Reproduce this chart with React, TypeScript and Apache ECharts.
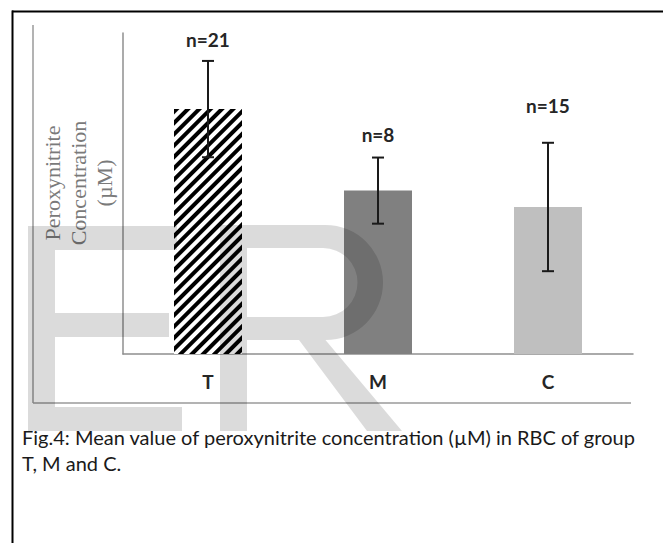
import React, { useEffect, useRef } from "react";
import * as echarts from "echarts";

const categories = ["T", "M", "C"];
const means = [76.3, 50.9, 45.8];
const errors = [15.0, 10.3, 20.0];
const sampleLabels = ["n=21", "n=8", "n=15"];
const sampleLabelLevels = [98.0, 68.5, 77.4];
const yAxisTitle = "Peroxynitrite\nConcentration\n(µM)";
const caption =
  "Fig.4: Mean value of peroxynitrite concentration (µM) in RBC of group\nT, M and C.";

const R_PATH =
  "M220,431 L220,225 L325.5,225 A57.5,57.5 0 0 1 325.5,340 L402,431 L367,431 L299,340 L247,340 L247,431 Z " +
  "M247,248 L247,317 L323,317 A34.5,34.5 0 0 0 323,248 Z";

let registered = false;
function ensureShapes() {
  if (registered) return;
  echarts.graphic.registerShape("watermarkR", echarts.graphic.extendPath(R_PATH, {}) as any);
  registered = true;
}

export default function App() {
  const ref = useRef<HTMLDivElement>(null);
  useEffect(() => {
    if (!ref.current) return;
    ensureShapes();
    const chart = echarts.init(ref.current, undefined, { renderer: "svg" });
    const wm = "rgba(0,0,0,0.14)";
    const barColors = ["#ffffff", "#808080", "#bfbfbf"];
    chart.setOption({
      animation: false,
      backgroundColor: "#ffffff",
      grid: { left: 123, top: 33, width: 510, height: 321, containLabel: false },
      xAxis: {
        type: "category",
        data: categories,
        axisLine: { show: true, lineStyle: { color: "#8f8f8f", width: 1.5 } },
        axisTick: { show: false },
        axisLabel: {
          margin: 18,
          fontFamily: "Lato",
          fontWeight: "bold",
          fontSize: 19,
          color: "#262626",
        },
        splitLine: { show: false },
      },
      yAxis: {
        type: "value",
        min: 0,
        max: 100,
        axisLine: { show: true, lineStyle: { color: "#8f8f8f", width: 1.5 } },
        axisTick: { show: false },
        axisLabel: { show: false },
        splitLine: { show: false },
      },
      series: [
        {
          type: "bar",
          barWidth: 68,
          z: 2,
          data: means.map((v, i) => ({
            value: v,
            itemStyle:
              i === 0
                ? {
                    color: "#ffffff",
                    decal: {
                      symbol: "rect",
                      dashArrayX: [1, 0],
                      dashArrayY: [3.5, 3.6],
                      rotation: -Math.PI / 4,
                      color: "#000000",
                    },
                  }
                : { color: barColors[i] },
          })),
        },
        {
          type: "custom",
          z: 3,
          encode: { x: 0, y: [1, 2] },
          data: means.map((m, i) => [i, m + errors[i], m - errors[i]]),
          renderItem: (params: any, api: any) => {
            const i = api.value(0);
            const hi = api.coord([i, api.value(1)]);
            const lo = api.coord([i, api.value(2)]);
            const w = 6;
            const st = { stroke: "#1a1a1a", lineWidth: 2 };
            return {
              type: "group",
              children: [
                { type: "line", shape: { x1: hi[0], y1: hi[1], x2: lo[0], y2: lo[1] }, style: st },
                { type: "line", shape: { x1: hi[0] - w, y1: hi[1], x2: hi[0] + w, y2: hi[1] }, style: st },
                { type: "line", shape: { x1: lo[0] - w, y1: lo[1], x2: lo[0] + w, y2: lo[1] }, style: st },
              ],
            };
          },
        },
        {
          type: "custom",
          z: 3,
          encode: { x: 0, y: 1 },
          data: sampleLabelLevels.map((v, i) => [i, v]),
          renderItem: (params: any, api: any) => {
            const i = api.value(0);
            const p = api.coord([i, api.value(1)]);
            return {
              type: "text",
              x: p[0],
              y: p[1],
              style: {
                text: sampleLabels[params.dataIndex],
                fontFamily: "Lato",
                fontWeight: "bold",
                fontSize: 19,
                fill: "#262626",
                align: "center",
                verticalAlign: "middle",
              },
            };
          },
        },
      ],
      graphic: [
        { type: "line", shape: { x1: 12, y1: 11.5, x2: 663, y2: 11.5 }, style: { stroke: "#000", lineWidth: 2 } },
        { type: "line", shape: { x1: 12.5, y1: 10.5, x2: 12.5, y2: 543 }, style: { stroke: "#000", lineWidth: 2 } },
        { type: "line", shape: { x1: 33, y1: 25, x2: 33, y2: 403 }, style: { stroke: "#9a9a9a", lineWidth: 1.5 } },
        { type: "line", shape: { x1: 33, y1: 403, x2: 631, y2: 403 }, style: { stroke: "#9a9a9a", lineWidth: 1.5 } },
        {
          type: "text",
          x: 78,
          y: 183,
          rotation: Math.PI / 2,
          style: {
            text: yAxisTitle,
            fontFamily: "Liberation Serif",
            fontSize: 22,
            lineHeight: 26,
            fill: "#7a7a7a",
            align: "center",
            verticalAlign: "middle",
          },
        },
        {
          type: "text",
          x: 22,
          y: 424,
          style: {
            text: caption,
            fontFamily: "Lato",
            fontSize: 20,
            lineHeight: 26,
            fill: "#1a1a1a",
            align: "left",
            verticalAlign: "top",
          },
        },
        {
          type: "polygon",
          z: 100,
          silent: true,
          shape: {
            points: [
              [28, 226], [177, 226], [177, 250], [55, 250], [55, 313], [169, 313],
              [169, 337], [55, 337], [55, 407], [182, 407], [182, 431], [28, 431],
            ],
          },
          style: { fill: wm },
        },
        { type: "watermarkR", z: 100, silent: true, x: 0, y: 0, style: { fill: wm } },
      ],
    });
    return () => chart.dispose();
  }, []);
  return (
    <div
      ref={ref}
      style={{ position: "fixed", left: 0, top: 0, width: 663, height: 543, background: "#fff" }}
    />
  );
}
